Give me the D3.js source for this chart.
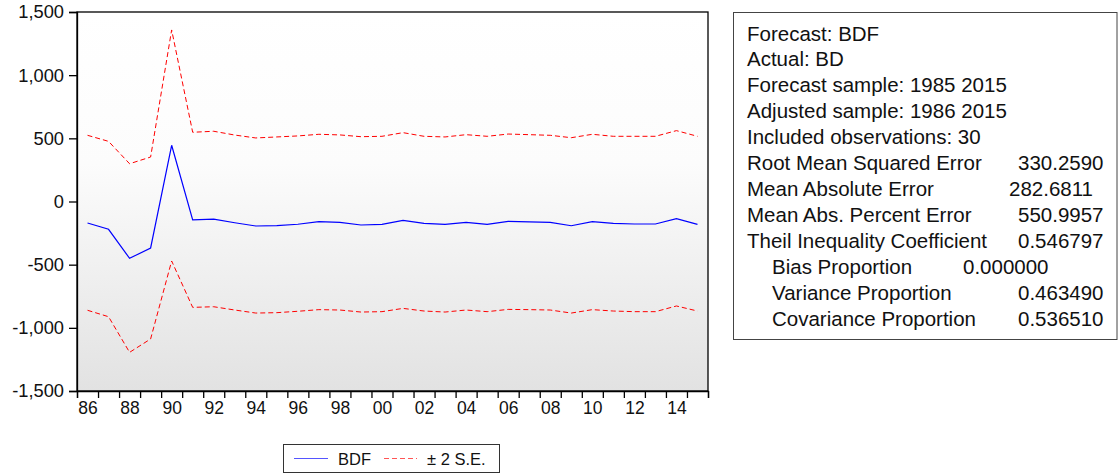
<!DOCTYPE html>
<html>
<head>
<meta charset="utf-8">
<script src="https://cdn.jsdelivr.net/npm/d3@7"></script>
<style>
  body { margin: 0; background: #fff; }
  svg { display: block; font-family: "Liberation Sans", Arial, sans-serif; }
</style>
</head>
<body>
<div id="chart"></div>
<script>
(function(){
    // data
    var years = d3.range(1986, 2016);
    var bdf = [-170, -220, -450, -368, 445, -146, -139, -168, -194, -191,
               -180, -160, -166, -186, -181, -149, -173, -181, -165, -181,
               -157, -162, -165, -192, -160, -173, -178, -178, -136, -181];
    var upper = [524, 476, 299, 352, 1358, 548, 556, 526, 503, 511,
                 519, 532, 527, 513, 516, 545, 516, 511, 529, 516,
                 534, 529, 524, 505, 532, 516, 516, 516, 561, 516];
    var lower = [-861, -912, -1194, -1088, -471, -838, -833, -859, -883, -880,
                 -869, -856, -859, -875, -872, -846, -867, -875, -859, -872,
                 -854, -856, -859, -883, -856, -867, -872, -872, -827, -867];
    var yTicks = [-1500, -1000, -500, 0, 500, 1000, 1500];
    var legendLabels = ["BDF", "\u00b1 2 S.E."];
    var statLabels = ["Forecast: BDF", "Actual: BD", "Forecast sample: 1985 2015",
                      "Adjusted sample: 1986 2015", "Included observations: 30",
                      "Root Mean Squared Error", "Mean Absolute Error",
                      "Mean Abs. Percent Error", "Theil Inequality Coefficient",
                      "Bias Proportion", "Variance Proportion", "Covariance Proportion"];
    var statValues = ["", "", "", "", "", "330.2590", "282.6811", "550.9957",
                      "0.546797", "0.000000", "0.463490", "0.536510"];

    // layout
    var width = 1118, height = 473;
    var left = 77, right = 708, top = 12, bottom = 391;
    var labelX = [747, 747, 747, 747, 747, 747, 747, 747, 747, 772, 772, 772];
    var valueX = [0, 0, 0, 0, 0, 1018, 1009, 1018, 1018, 963, 1018, 1018];
    var font = "'Liberation Sans', Arial, sans-serif";

    var svg = d3.select("#chart")
        .append("svg")
        .attr("width", width)
        .attr("height", height)

    var x = d3.scaleLinear().domain([1985.5, 2015.5]).range([left, right]);
    var y = d3.scaleLinear().domain([-1500, 1500]).range([bottom, top]);

    var defs = svg.append("defs");
    var grad = defs.append("linearGradient")
        .attr("id", "bg")
        .attr("x1", 0).attr("y1", 0).attr("x2", 0).attr("y2", 1);
    grad.append("stop").attr("offset", "0%").attr("stop-color", "#ffffff");
    grad.append("stop").attr("offset", "40%").attr("stop-color", "#fcfcfc");
    grad.append("stop").attr("offset", "100%").attr("stop-color", "#e2e2e2");

    svg.append("rect")
        .attr("x", left).attr("y", top)
        .attr("width", right - left).attr("height", bottom - top)
        .attr("fill", "url(#bg)")
        .attr("stroke", "#000")
        .attr("stroke-width", 1.3);

    var locale = d3.formatLocale({decimal: ".", thousands: ",", grouping: [3], currency: ["", ""], minus: "-"});

    var yAxis = svg.append("g")
        .attr("transform", "translate(" + left + ",0)")
        .call(d3.axisLeft(y).tickValues(yTicks).tickSize(8).tickPadding(5)
            .tickFormat(locale.format(",")));

    // tick marks at year boundaries
    var xTickAxis = svg.append("g")
        .attr("transform", "translate(0," + bottom + ")")
        .call(d3.axisBottom(x).tickValues(d3.range(1985.5, 2016, 1)).tickSize(7).tickFormat(""));

    // labels centred on every second year
    var xLabelAxis = svg.append("g")
        .attr("transform", "translate(0," + bottom + ")")
        .call(d3.axisBottom(x).tickValues(years.filter(function(d){ return d % 2 == 0; }))
            .tickSize(0).tickPadding(11)
            .tickFormat(function(d){ return String(d).slice(2); }));
    xLabelAxis.select(".domain").remove();

    svg.selectAll("g").attr("font-family", font);
    svg.selectAll(".tick text")
        .attr("fill", "#111")
        .style("font-size", "17.5px");
    yAxis.selectAll(".tick text").style("font-size", "18.3px");
    svg.selectAll(".domain, .tick line")
        .attr("stroke", "#000")
        .attr("stroke-width", 1.3);

    var line = d3.line()
        .x(function(d, i){ return x(years[i]); })
        .y(function(d){ return y(d); });

    [upper, lower].forEach(function(s){
        svg.append("path")
            .attr("d", line(s))
            .attr("fill", "none")
            .attr("stroke", "#ff0000")
            .attr("stroke-width", 1)
            .attr("stroke-dasharray", "5,3");
    });

    svg.append("path")
        .attr("d", line(bdf))
        .attr("fill", "none")
        .attr("stroke", "#0000ff")
        .attr("stroke-width", 1.2);

    // legend
    var legend = svg.append("g");
    legend.append("rect")
        .attr("x", 283.5).attr("y", 444.5)
        .attr("width", 216).attr("height", 28)
        .attr("fill", "#fff")
        .attr("stroke", "#333")
        .attr("stroke-width", 1);
    legend.append("line")
        .attr("x1", 294).attr("x2", 328).attr("y1", 458.5).attr("y2", 458.5)
        .attr("stroke", "#5555ff").attr("stroke-width", 1.2);
    legend.append("line")
        .attr("x1", 384).attr("x2", 417).attr("y1", 458.5).attr("y2", 458.5)
        .attr("stroke", "#ff5555").attr("stroke-width", 1.2)
        .attr("stroke-dasharray", "5,3");
    legend.selectAll("text")
        .data(legendLabels)
        .enter().append("text")
        .attr("x", function(d, i){ return i == 0 ? 338 : 427; })
        .attr("y", 464.5)
        .attr("font-family", font)
        .style("font-size", "16.5px")
        .attr("fill", "#111")
        .text(function(d){ return d; });

    // statistics box
    var box = svg.append("g");
    box.append("rect")
        .attr("x", 733.5).attr("y", 12.5)
        .attr("width", 383.5).attr("height", 327)
        .attr("fill", "#fff")
        .attr("stroke", "#444")
        .attr("stroke-width", 1);

    box.selectAll(".stat-label")
        .data(statLabels)
        .enter().append("text")
        .attr("class", "stat-label")
        .attr("x", function(d, i){ return labelX[i]; })
        .attr("y", function(d, i){ return 40.5 + i * 25.95; })
        .attr("font-family", font)
        .style("font-size", "20.5px")
        .attr("fill", "#111")
        .text(function(d){ return d; });

    box.selectAll(".stat-value")
        .data(statValues)
        .enter().append("text")
        .attr("class", "stat-value")
        .attr("x", function(d, i){ return valueX[i]; })
        .attr("y", function(d, i){ return 40.5 + i * 25.95; })
        .attr("font-family", font)
        .style("font-size", "20.5px")
        .attr("fill", "#111")
        .text(function(d){ return d; });
})();
</script>
</body>
</html>
